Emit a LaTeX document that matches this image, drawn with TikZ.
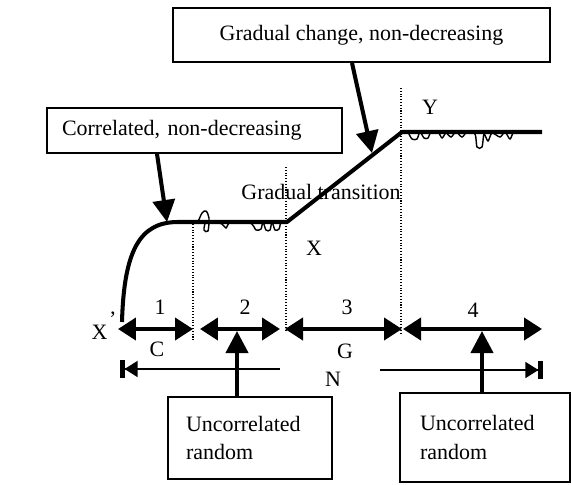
\documentclass[tikz,border=0pt]{standalone}
\usepackage{fontspec}
\setmainfont{Liberation Serif}
\usetikzlibrary{arrows.meta}

\tikzset{
  txtbox/.style={draw, line width=1.1pt, font=\fontsize{12.5}{16}\selectfont},
  heavy/.style={line width=2.3pt},
  noise/.style={line width=0.8pt},
  divider/.style={densely dotted, line width=0.6pt},
  lbl/.style={font=\fontsize{12.5}{15}\selectfont, inner sep=0pt},
  span/.style={line width=2.3pt, {Triangle[length=0.36cm,width=0.44cm]}-{Triangle[length=0.36cm,width=0.44cm]}},
  callout/.style={line width=2.3pt, -{Triangle[length=0.44cm,width=0.44cm]}},
  total/.style={line width=0.8pt}
}

\begin{document}
\begin{tikzpicture}[x=0.02cm, y=-0.02cm]
\useasboundingbox (0,0) rectangle (571,484);

% boxes
\node[txtbox, minimum width=7.54cm, minimum height=1.08cm] (gbox) at (361.5,35) {Gradual change, non-decreasing};
\node[txtbox, text width=5.3cm, inner xsep=0.3cm, minimum height=0.9cm, align=left] (cbox) at (194.5,130.5) {Correlated, non-decreasing};
\node[txtbox, text width=2.56cm, inner xsep=0.36cm, minimum height=1.64cm, align=left] (ubox1) at (250,438) {Uncorrelated\\random};
\node[txtbox, text width=2.6cm, inner xsep=0.4cm, minimum height=1.78cm, align=left] (ubox2) at (485,437.5) {Uncorrelated\\random};

% the series
\coordinate (xs) at (122,322);
\coordinate (xa) at (287,222);
\coordinate (yb) at (402,132);
\coordinate (ye) at (542,132);
\draw[heavy, line join=round] (xs) .. controls (124,250) and (140,222) .. (178,222) -- (xa) -- (yb) -- (ye);

\draw[noise] plot[smooth] coordinates {(198,222) (202,213) (206,211) (209,218) (208,231) (204,230) (206,222) (214,222) (222,224) (226,228) (230,222) (242,221) (252,224) (256,230) (261,229) (263,222) (266,230) (270,230) (272,222) (275,230) (279,229) (281,222) (285,222)};
\draw[noise] plot[smooth] coordinates {(408,132) (412,139) (417,139) (420,132) (424,138) (428,138) (431,132) (438,132) (442,138) (446,133) (451,137) (456,132) (462,137) (467,132) (475,134) (477,147) (482,147) (484,134) (488,141) (492,133) (500,137) (505,132) (510,139) (514,132) (524,132)};

% dividers
\draw[divider] (193,224) -- (193,340);
\draw[divider] (286,167) -- (286,332);
\draw[divider] (401,88) -- (401,334);

% callouts
\coordinate (c1) at (167,222);
\coordinate (c2) at (372,153);
\draw[callout] ([xshift=-0.75cm]cbox.south) -- (c1);
\draw[callout] ([xshift=-0.19cm]gbox.south) -- (c2);

% segments
\coordinate (a0) at (118,329);
\coordinate (a1) at (193,329);
\coordinate (a2) at (200,329);
\coordinate (a3) at (280,329);
\coordinate (a4) at (285,329);
\coordinate (a5) at (402,329);
\coordinate (a6) at (403,329);
\coordinate (a7) at (542,329);
\draw[span] (a0) -- (a1);
\draw[span] (a2) -- (a3);
\draw[span] (a4) -- (a5);
\draw[span] (a6) -- (a7);

\node[lbl] (n1) at (160,307) {1};
\node[lbl] (n2) at (245,307) {2};
\node[lbl] (n3) at (347,307) {3};
\node[lbl] (n4) at (473,310) {4};
\node[lbl] (lc) at (157,349) {C};
\node[lbl] (lg) at (345,351) {G};
\node[lbl] (ln) at (333,379) {N};
\node[lbl] (lx0) at (104,326) {X\raisebox{1.3ex}{\kern1pt'}};
\node[lbl] (lx) at (314,248) {X};
\node[lbl] (ly) at (430,107) {Y};
\node[lbl] (lgt) at (321,192) {Gradual transition};

% total length N
\coordinate (nl) at (120,369);
\coordinate (nr) at (543,370);
\draw[total, {Bar[width=0.36cm,line width=2.6pt]Triangle[length=0.26cm,width=0.32cm]}-] (nl) -- (280,369);
\draw[total, -{Triangle[length=0.26cm,width=0.32cm]Bar[width=0.36cm,line width=2.6pt]}] (380,370) -- (nr);

% random parts
\coordinate (u1) at (237,331);
\coordinate (u2) at (482,331);
\draw[callout] (ubox1.north -| u1) -- (u1);
\draw[callout] (ubox2.north -| u2) -- (u2);
\end{tikzpicture}
\end{document}
